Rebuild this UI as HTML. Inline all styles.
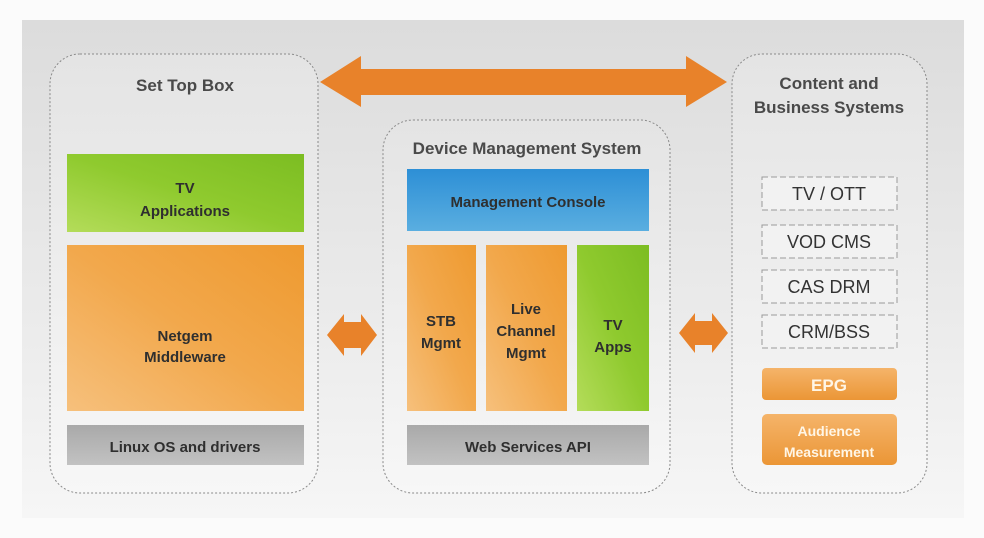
<!DOCTYPE html>
<html><head><meta charset="utf-8"><style>
html,body{margin:0;padding:0;background:#fff;}
svg{display:block;}
text{font-family:"Liberation Sans",Arial,sans-serif;}
</style></head><body>
<svg width="984" height="538" viewBox="0 0 984 538" xmlns="http://www.w3.org/2000/svg">
<defs>
<linearGradient id="bg" x1="0" y1="0" x2="0" y2="1">
<stop offset="0" stop-color="#dcdcdc"/><stop offset="0.6" stop-color="#ebebeb"/><stop offset="1" stop-color="#f6f6f6"/>
</linearGradient>
<linearGradient id="box" x1="0" y1="0" x2="0" y2="1">
<stop offset="0" stop-color="#e4e4e4"/><stop offset="1" stop-color="#f7f7f7"/>
</linearGradient>
<linearGradient id="green" x1="0" y1="1" x2="1" y2="0">
<stop offset="0" stop-color="#b4dc5a"/><stop offset="0.5" stop-color="#8fca2e"/><stop offset="1" stop-color="#7cbd22"/>
</linearGradient>
<linearGradient id="orange" x1="0" y1="1" x2="1" y2="0">
<stop offset="0" stop-color="#f6c07c"/><stop offset="0.5" stop-color="#f2a84c"/><stop offset="1" stop-color="#ee9a30"/>
</linearGradient>
<linearGradient id="blue" x1="0" y1="0" x2="0" y2="1">
<stop offset="0" stop-color="#2d8fd6"/><stop offset="1" stop-color="#5aaee0"/>
</linearGradient>
<linearGradient id="gray" x1="0" y1="0" x2="0" y2="1">
<stop offset="0" stop-color="#a9a9a9"/><stop offset="1" stop-color="#c2c2c2"/>
</linearGradient>
<linearGradient id="org2" x1="0" y1="0" x2="0" y2="1">
<stop offset="0" stop-color="#f5b46a"/><stop offset="1" stop-color="#eb9636"/>
</linearGradient>
</defs>
<rect x="0" y="0" width="984" height="538" fill="#fbfbfb"/>
<rect x="22" y="20" width="942" height="498" fill="url(#bg)"/>

<!-- containers -->
<g fill="url(#box)" stroke="#8a8a8a" stroke-width="1" stroke-dasharray="2,2">
<rect x="50" y="54" width="268" height="439" rx="30"/>
<rect x="383" y="120" width="287" height="373" rx="30"/>
<rect x="732" y="54" width="195" height="439" rx="30"/>
</g>

<!-- big arrow -->
<polygon points="320,82 361,56 361,69 686,69 686,56 727,82 686,107 686,95 361,95 361,107" fill="#e8822a"/>
<!-- small arrows -->
<polygon points="327,335 344,314 344,322 361,322 361,314 377,335 361,356 361,348 344,348 344,356" fill="#e8822a"/>
<polygon points="679,333 695,313 695,321 712,321 712,313 728,333 712,353 712,345 695,345 695,353" fill="#e8822a"/>

<!-- titles -->
<g fill="#4a4a4a" font-size="17" font-weight="bold" text-anchor="middle">
<text x="185" y="91">Set Top Box</text>
<text x="527" y="154">Device Management System</text>
<text x="829" y="89">Content and</text>
<text x="829" y="113">Business Systems</text>
</g>

<!-- STB -->
<rect x="67" y="154" width="237" height="78" fill="url(#green)"/>
<rect x="67" y="245" width="237" height="166" fill="url(#orange)"/>
<rect x="67" y="425" width="237" height="40" fill="url(#gray)"/>
<!-- DMS -->
<rect x="407" y="169" width="242" height="62" fill="url(#blue)"/>
<rect x="407" y="245" width="69" height="166" fill="url(#orange)"/>
<rect x="486" y="245" width="81" height="166" fill="url(#orange)"/>
<rect x="577" y="245" width="72" height="166" fill="url(#green)"/>
<rect x="407" y="425" width="242" height="40" fill="url(#gray)"/>

<g fill="#2f2f2f" font-size="15" font-weight="bold" text-anchor="middle">
<text x="185" y="193">TV</text>
<text x="185" y="216">Applications</text>
<text x="185" y="341">Netgem</text>
<text x="185" y="362">Middleware</text>
<text x="185" y="452">Linux OS and drivers</text>
<text x="528" y="207">Management Console</text>
<text x="441" y="326">STB</text>
<text x="441" y="348">Mgmt</text>
<text x="526" y="314">Live</text>
<text x="526" y="336">Channel</text>
<text x="526" y="358">Mgmt</text>
<text x="613" y="330">TV</text>
<text x="613" y="352">Apps</text>
<text x="528" y="452">Web Services API</text>
</g>

<!-- right items -->
<g fill="#f2f2f2" stroke="#9a9a9a" stroke-width="1" stroke-dasharray="6,3">
<rect x="762" y="177" width="135" height="33"/>
<rect x="762" y="225" width="135" height="33"/>
<rect x="762" y="270" width="135" height="33"/>
<rect x="762" y="315" width="135" height="33"/>
</g>
<rect x="762" y="368" width="135" height="32" rx="4" fill="url(#org2)"/>
<rect x="762" y="414" width="135" height="51" rx="5" fill="url(#org2)"/>
<g fill="#333" font-size="18" text-anchor="middle">
<text x="829" y="200">TV / OTT</text>
<text x="829" y="248">VOD CMS</text>
<text x="829" y="293">CAS DRM</text>
<text x="829" y="338">CRM/BSS</text>
</g>
<g fill="#fff6e6" font-weight="bold" text-anchor="middle">
<text x="829" y="391" font-size="17">EPG</text>
<text x="829" y="436" font-size="14">Audience</text>
<text x="829" y="457" font-size="14">Measurement</text>
</g>
</svg>
</body></html>
